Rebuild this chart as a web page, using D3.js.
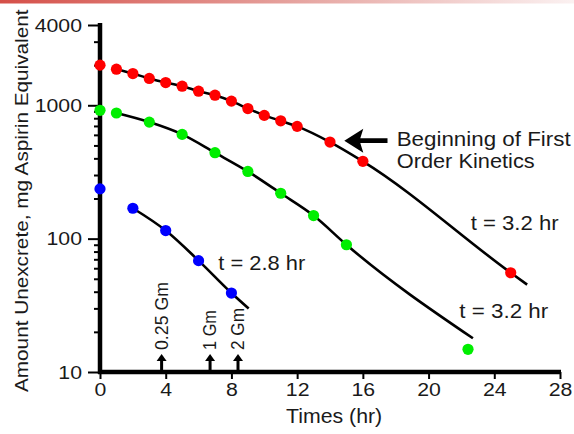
<!DOCTYPE html>
<html>
<head>
<meta charset="utf-8">
<script src="https://cdn.jsdelivr.net/npm/d3@7"></script>
<style>
  html, body { margin: 0; padding: 0; background: #fff; }
  svg { display: block; }
  text { font-family: "Liberation Sans", Arial, Helvetica, sans-serif; fill: #1a1a1a; }
</style>
</head>
<body>
<svg id="chart" width="574" height="434"></svg>
<script>
// Amount of salicylate remaining to be excreted after three aspirin doses
const doseLabels = ["2 Gm", "1 Gm", "0.25 Gm"];
const doseTimes = [8.4, 6.7, 3.75];

// 2 Gm dose (red)
const redTimes  = [0, 1, 2, 3, 4, 5, 6, 7, 8, 9, 10, 11, 12, 14, 16, 25];
const redValues = [2000, 1865, 1730, 1590, 1480, 1390, 1275, 1190, 1075, 945, 840, 765, 695, 530, 380, 55.5];
// 1 Gm dose (green)
const greenTimes  = [0, 1, 3, 5, 7, 9, 11, 13, 15, 22.4];
const greenValues = [917, 875, 748, 605, 441, 319, 219, 149, 90, 14.8];
// 0.25 Gm dose (blue)
const blueTimes  = [0, 2, 4, 6, 8];
const blueValues = [236, 169, 115, 68.4, 39.1];

// Drawn elimination curves (terminal phase extended past the last sample)
const redCurveTimes  = [1, 2, 3, 4, 5, 6, 7, 8, 9, 10, 11, 12, 14, 16, 25, 26];
const redCurveValues = [1865, 1730, 1590, 1480, 1390, 1275, 1190, 1075, 945, 840, 765, 695, 530, 380, 55.5, 45.2];
const greenCurveTimes  = [1, 3, 5, 7, 9, 11, 13, 15, 22.7];
const greenCurveValues = [875, 748, 605, 441, 319, 219, 149, 90, 17.9];
const blueCurveTimes  = [2, 4, 6, 8, 9.05];
const blueCurveValues = [169, 115, 68.4, 39.1, 29.9];

// Axis ticks
const xTicks = [0, 4, 8, 12, 16, 20, 24, 28];
const yMajorTicks = [10, 100, 1000, 4000];
const yMinorTicks = [20, 30, 40, 50, 60, 70, 80, 90, 200, 300, 400, 500, 600, 700, 800, 900, 2000, 3000];

// Half-life notes and the first-order annotation, in data coordinates
const halfLifeLabels = ["t = 3.2 hr", "t = 3.2 hr", "t = 2.8 hr"];
const halfLifeTimes  = [22.56, 21.87, 7.2];
const halfLifeValues = [116, 25.3, 57.7];
const noteLines = ["Beginning of First", "Order Kinetics"];
const noteTime = 18.06;
const noteValues = [495, 340];
const noteArrowTip = [14.87, 543];
const noteArrowTail = 17.5;

const svg = d3.select("#chart");

// Arial/Liberation Sans advance widths (per 1000 em) for the glyphs used here
const ADV = {
  " ": 278, "(": 333, ")": 333, ",": 278, ".": 278, "=": 584,
  "A": 667, "B": 667, "E": 667, "F": 611, "G": 778, "K": 667, "O": 778, "T": 611, "U": 722,
  "a": 556, "c": 500, "d": 556, "e": 556, "f": 278, "g": 556, "h": 556, "i": 222, "l": 222,
  "m": 833, "n": 556, "o": 556, "p": 556, "q": 556, "r": 333, "s": 500, "t": 278, "u": 556,
  "v": 500, "x": 500
};
function advance(str, size) {
  let w = 0;
  for (const ch of str) w += (ADV[ch] ?? 556);
  return w * size / 1000;
}

// place a label at (px, py), optionally rotated, with glyphs widened to a set width
function label(parent, px, py, str, size, width, angle = 0) {
  const k = width / advance(str, size);
  return parent.append("text").attr("font-size", size).text(str)
    .attr("transform", `translate(${px},${py}) rotate(${angle}) scale(${k.toFixed(4)},1)`);
}

// header strip
const defs = svg.append("defs");
const grad = defs.append("linearGradient").attr("id", "topbar").attr("x1", 0).attr("x2", 1);
grad.append("stop").attr("offset", 0).attr("stop-color", "#d54f48");
grad.append("stop").attr("offset", 0.55).attr("stop-color", "#e7a9a5");
grad.append("stop").attr("offset", 1).attr("stop-color", "#fbf1f1");
svg.append("rect").attr("x", 0).attr("y", 0).attr("width", 574).attr("height", 3.5).attr("fill", "url(#topbar)");

const x = d3.scaleLinear().domain([0, 28]).range([100, 560]);
const y = d3.scaleLog().domain([10, 4000]).range([372, 25]);

// y axis: labelled decades plus unlabelled minor ticks
const yMajor = svg.append("g").attr("transform", `translate(${x(0)},0)`)
  .call(d3.axisLeft(y).tickValues(yMajorTicks).tickFormat(d3.format("d")).tickSize(12).tickPadding(6));
const yMinor = svg.append("g").attr("transform", `translate(${x(0)},0)`)
  .call(d3.axisLeft(y).tickValues(yMinorTicks).tickFormat("").tickSize(6));
const xAxis = svg.append("g").attr("transform", `translate(0,${y(10)})`)
  .call(d3.axisBottom(x).tickValues(xTicks).tickSize(7).tickPadding(4));

[yMajor, yMinor, xAxis].forEach(g => {
  g.select(".domain").remove();
  g.selectAll(".tick line").attr("stroke", "#000").attr("stroke-width", 2);
  g.selectAll("text").attr("font-size", 19).attr("fill", "#1a1a1a")
    .style("font-family", '"Liberation Sans", Arial, sans-serif');
});
// tick numerals are set wide: stretch each about its own anchor
const tickStretch = 1.12;
[yMajor, xAxis].forEach(g => {
  g.selectAll(".tick text").each(function () {
    const t = d3.select(this);
    const ax = +t.attr("x") || 0;
    t.attr("x", ax / tickStretch).attr("transform", `scale(${tickStretch},1)`);
  });
});

// heavy axis lines
svg.append("line").attr("x1", x(0)).attr("x2", x(0)).attr("y1", y(4000) - 2).attr("y2", y(10) + 2)
  .attr("stroke", "#000").attr("stroke-width", 4.5);
svg.append("line").attr("x1", x(0) - 2).attr("x2", x(28) + 1).attr("y1", y(10)).attr("y2", y(10))
  .attr("stroke", "#000").attr("stroke-width", 4.5);

// axis titles
label(svg, 286, 423, "Times (hr)", 20, 97);
label(svg, 28, 392, "Amount Unexcrete, mg Aspirin Equivalent", 19, 384, -90);

// elimination curves
const line = d3.line().x(d => x(d[0])).y(d => y(d[1])).curve(d3.curveMonotoneX);
const curves = [
  [redCurveTimes, redCurveValues],
  [greenCurveTimes, greenCurveValues],
  [blueCurveTimes, blueCurveValues]
];
curves.forEach(([ts, vs]) => {
  svg.append("path").datum(ts.map((t, i) => [t, vs[i]]))
    .attr("d", line).attr("fill", "none").attr("stroke", "#000").attr("stroke-width", 2.6);
});

// sample points
const series = [
  { times: redTimes, values: redValues, color: "#ff0000" },
  { times: greenTimes, values: greenValues, color: "#00ee00" },
  { times: blueTimes, values: blueValues, color: "#0000ff" }
];
series.forEach(s => {
  svg.append("g").selectAll("circle")
    .data(s.times.map((t, i) => [t, s.values[i]]))
    .join("circle")
    .attr("cx", d => x(d[0])).attr("cy", d => y(d[1])).attr("r", 5.6)
    .attr("fill", s.color);
});

// dose markers on the time axis
const doseWidths = [42, 40, 68];
doseTimes.forEach((t, i) => {
  const cx = x(t), base = y(10), tip = base - 18;
  const g = svg.append("g");
  g.append("line").attr("x1", cx).attr("x2", cx).attr("y1", tip + 5).attr("y2", base)
    .attr("stroke", "#000").attr("stroke-width", 3);
  g.append("path").attr("d", `M${cx},${tip}L${cx + 5},${tip + 7}L${cx - 5},${tip + 7}Z`).attr("fill", "#000");
  label(g, cx + 6, tip - 4, doseLabels[i], 18, doseWidths[i], -90);
});

// half-life notes
const halfLifeWidths = [88, 89, 87];
halfLifeLabels.forEach((lab, i) => {
  label(svg, x(halfLifeTimes[i]), y(halfLifeValues[i]), lab, 20, halfLifeWidths[i]);
});

// first-order annotation with arrow
const noteWidths = [174, 138];
noteLines.forEach((lab, i) => {
  label(svg, x(noteTime), y(noteValues[i]), lab, 20, noteWidths[i]);
});
{
  const tx = x(noteArrowTip[0]), ty = y(noteArrowTip[1]), ex = x(noteArrowTail);
  svg.append("path")
    .attr("d", `M${tx},${ty}L${tx + 19},${ty - 12}L${tx + 16},${ty - 2.3}L${ex},${ty - 2.3}L${ex},${ty + 2.3}L${tx + 16},${ty + 2.3}L${tx + 19},${ty + 12}Z`)
    .attr("fill", "#000");
}
</script>
</body>
</html>
